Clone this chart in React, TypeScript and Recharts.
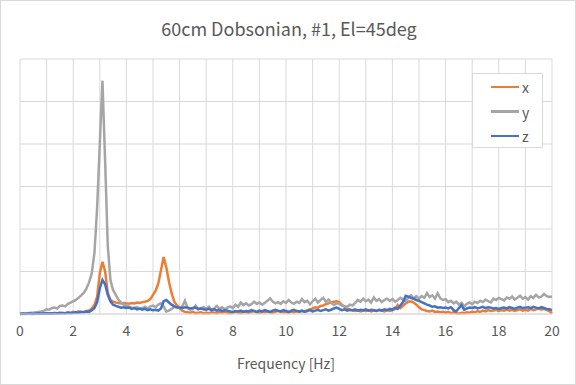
import React from 'react';
import { LineChart, Line, XAxis, YAxis, CartesianGrid, Label } from 'recharts';

// sampling grid, 0.1 Hz steps
const freq = Array.from({ length: 201 }, (_, i) => +(i / 10).toFixed(1));

const xAmp = [
  0.00, 0.00, 0.01, 0.01, 0.00, 0.01, 0.02, 0.01, 0.01, 0.02,
  0.01, 0.02, 0.01, 0.03, 0.02, 0.01, 0.03, 0.02, 0.04, 0.03,
  0.05, 0.03, 0.06, 0.04, 0.05, 0.07, 0.08, 0.13, 0.22, 0.40,
  0.96, 1.23, 1.00, 0.50, 0.33, 0.29, 0.27, 0.26, 0.25, 0.26,
  0.25, 0.24, 0.26, 0.25, 0.27, 0.26, 0.28, 0.29, 0.31, 0.35,
  0.45, 0.55, 0.72, 1.03, 1.34, 1.10, 0.76, 0.49, 0.29, 0.20,
  0.14, 0.08, 0.05, 0.04, 0.03, 0.05, 0.02, 0.03, 0.04, 0.02,
  0.03, 0.02, 0.04, 0.03, 0.02, 0.04, 0.03, 0.05, 0.03, 0.02,
  0.03, 0.05, 0.04, 0.02, 0.06, 0.04, 0.03, 0.05, 0.07, 0.04,
  0.03, 0.05, 0.04, 0.06, 0.04, 0.03, 0.05, 0.08, 0.06, 0.04,
  0.05, 0.03, 0.06, 0.04, 0.07, 0.05, 0.07, 0.06, 0.09, 0.11,
  0.13, 0.16, 0.15, 0.19, 0.20, 0.23, 0.25, 0.27, 0.29, 0.30,
  0.28, 0.22, 0.17, 0.13, 0.10, 0.08, 0.07, 0.09, 0.06, 0.08,
  0.07, 0.09, 0.06, 0.08, 0.07, 0.10, 0.08, 0.06, 0.09, 0.07,
  0.09, 0.12, 0.21, 0.14, 0.19, 0.25, 0.29, 0.30, 0.27, 0.22,
  0.16, 0.11, 0.09, 0.07, 0.06, 0.08, 0.05, 0.06, 0.04, 0.05,
  0.03, 0.05, 0.02, 0.04, 0.02, 0.01, 0.03, 0.02, 0.04, 0.03,
  0.05, 0.04, 0.07, 0.05, 0.08, 0.06, 0.09, 0.07, 0.08, 0.10,
  0.07, 0.09, 0.08, 0.11, 0.08, 0.10, 0.07, 0.09, 0.11, 0.08,
  0.10, 0.08, 0.12, 0.09, 0.11, 0.13, 0.10, 0.12, 0.09, 0.07,
  0.02,
];

const yAmp = [
  0.00, 0.01, 0.02, 0.02, 0.03, 0.03, 0.04, 0.05, 0.06, 0.08,
  0.11, 0.10, 0.14, 0.15, 0.13, 0.19, 0.20, 0.18, 0.24, 0.27,
  0.30, 0.33, 0.38, 0.44, 0.50, 0.60, 0.75, 0.96, 1.45, 2.50,
  4.00, 5.49, 3.60, 1.60, 0.80, 0.56, 0.45, 0.34, 0.27, 0.22,
  0.19, 0.17, 0.15, 0.14, 0.16, 0.12, 0.14, 0.17, 0.13, 0.18,
  0.20, 0.16, 0.22, 0.25, 0.18, 0.06, 0.08, 0.12, 0.17, 0.15,
  0.15, 0.18, 0.31, 0.14, 0.10, 0.12, 0.20, 0.11, 0.14, 0.16,
  0.12, 0.17, 0.10, 0.13, 0.19, 0.12, 0.16, 0.11, 0.15, 0.18,
  0.14, 0.22, 0.17, 0.27, 0.21, 0.25, 0.20, 0.23, 0.29, 0.24,
  0.27, 0.22, 0.26, 0.31, 0.37, 0.29, 0.25, 0.28, 0.24, 0.30,
  0.26, 0.33, 0.27, 0.24, 0.29, 0.26, 0.35, 0.28, 0.31, 0.23,
  0.30, 0.36, 0.27, 0.33, 0.38, 0.29, 0.34, 0.26, 0.21, 0.25,
  0.24, 0.20, 0.18, 0.17, 0.22, 0.20, 0.26, 0.33, 0.29, 0.36,
  0.30, 0.34, 0.27, 0.39, 0.31, 0.35, 0.28, 0.33, 0.36, 0.31,
  0.35, 0.29, 0.33, 0.38, 0.34, 0.30, 0.39, 0.44, 0.37, 0.42,
  0.36, 0.42, 0.38, 0.49, 0.40, 0.44, 0.36, 0.49, 0.37, 0.33,
  0.35, 0.28, 0.31, 0.25, 0.29, 0.22, 0.26, 0.18, 0.24, 0.27,
  0.23, 0.29, 0.26, 0.31, 0.28, 0.34, 0.30, 0.27, 0.36, 0.33,
  0.38, 0.35, 0.32, 0.39, 0.36, 0.41, 0.34, 0.38, 0.43, 0.36,
  0.40, 0.34, 0.42, 0.38, 0.45, 0.39, 0.41, 0.47, 0.42, 0.40,
  0.41,
];

const zAmp = [
  0.00, 0.01, 0.00, 0.01, 0.01, 0.00, 0.01, 0.02, 0.01, 0.01,
  0.02, 0.01, 0.02, 0.01, 0.02, 0.03, 0.02, 0.02, 0.03, 0.02,
  0.03, 0.04, 0.03, 0.05, 0.04, 0.06, 0.05, 0.09, 0.14, 0.28,
  0.60, 0.80, 0.70, 0.45, 0.30, 0.22, 0.19, 0.17, 0.15, 0.16,
  0.14, 0.15, 0.12, 0.14, 0.11, 0.13, 0.10, 0.12, 0.09, 0.11,
  0.09, 0.10, 0.08, 0.13, 0.30, 0.33, 0.27, 0.22, 0.18, 0.16,
  0.15, 0.14, 0.16, 0.15, 0.13, 0.14, 0.15, 0.12, 0.13, 0.11,
  0.10, 0.12, 0.09, 0.11, 0.08, 0.10, 0.07, 0.09, 0.08, 0.06,
  0.05, 0.07, 0.06, 0.08, 0.05, 0.07, 0.06, 0.09, 0.07, 0.05,
  0.08, 0.06, 0.09, 0.07, 0.05, 0.08, 0.10, 0.07, 0.06, 0.09,
  0.07, 0.05, 0.08, 0.10, 0.07, 0.06, 0.08, 0.05, 0.07, 0.09,
  0.06, 0.08, 0.10, 0.07, 0.09, 0.11, 0.08, 0.10, 0.13, 0.15,
  0.12, 0.09, 0.11, 0.08, 0.10, 0.09, 0.11, 0.08, 0.10, 0.09,
  0.11, 0.08, 0.10, 0.09, 0.07, 0.10, 0.08, 0.11, 0.09, 0.12,
  0.10, 0.15, 0.12, 0.20, 0.28, 0.43, 0.41, 0.38, 0.36, 0.33,
  0.31, 0.28, 0.25, 0.22, 0.20, 0.17, 0.18, 0.15, 0.16, 0.14,
  0.15, 0.13, 0.16, 0.09, 0.06, 0.14, 0.21, 0.10, 0.13, 0.15,
  0.14, 0.16, 0.13, 0.15, 0.17, 0.14, 0.16, 0.15, 0.13, 0.14,
  0.12, 0.14, 0.15, 0.13, 0.16, 0.14, 0.12, 0.15, 0.17, 0.14,
  0.15, 0.16, 0.14, 0.17, 0.15, 0.13, 0.16, 0.14, 0.12, 0.11,
  0.09,
];

const xTicks = [0, 1, 2, 3, 4, 5, 6, 7, 8, 9, 10, 11, 12, 13, 14, 15, 16, 17, 18, 19, 20];
const yTicks = [0, 1, 2, 3, 4, 5, 6];

const series = [
  { key: 'x', color: '#ED7D31' },
  { key: 'y', color: '#A5A5A5' },
  { key: 'z', color: '#4472C4' },
];

const data = freq.map((f, i) => ({ f, x: xAmp[i], y: yAmp[i], z: zAmp[i] }));

const font = "'Noto Sans CJK JP', 'Noto Sans', sans-serif";
const textColor = '#595959';

const LegendBox = () => (
  <div
    style={{
      position: 'absolute',
      left: 471,
      top: 72,
      width: 71,
      height: 75,
      border: '1px solid #d9d9d9',
      background: '#fff',
      boxSizing: 'border-box',
      fontFamily: font,
      fontSize: 14,
      color: textColor,
    }}
  >
    {series.map((s, i) => (
      <div key={s.key} style={{ position: 'absolute', left: 18, top: 3 + i * 24.5, height: 20, display: 'flex', alignItems: 'center' }}>
        <div style={{ width: 28, height: 2.5, background: s.color }} />
        <span style={{ marginLeft: 3, lineHeight: '20px' }}>{s.key}</span>
      </div>
    ))}
  </div>
);

export default function App() {
  return (
    <div
      style={{
        position: 'absolute',
        left: 0,
        top: 0,
        width: 576,
        height: 385,
        border: '1px solid #d9d9d9',
        boxSizing: 'border-box',
        background: '#fff',
        fontFamily: font,
      }}
    >
      <div
        style={{
          position: 'absolute',
          left: 0,
          top: 14,
          width: 576,
          textAlign: 'center',
          fontSize: 18,
          color: textColor,
          lineHeight: '26px',
        }}
      >
        60cm Dobsonian, #1, El=45deg
      </div>
      <div style={{ position: 'absolute', left: -1, top: -1 }}>
        <LineChart width={576} height={385} data={data} margin={{ top: 59, right: 24, left: 20, bottom: 0 }}>
          <CartesianGrid stroke="#d9d9d9" strokeWidth={1} />
          <XAxis
            dataKey="f"
            type="number"
            domain={[0, 20]}
            ticks={xTicks}
            interval={0}
            height={71}
            tickLine={false}
            tickSize={0}
            tickMargin={12}
            axisLine={{ stroke: '#d9d9d9' }}
            tick={{ fill: textColor, fontSize: 14, fontFamily: font }}
            tickFormatter={(v: number) => (v % 2 === 0 ? String(v) : '')}
          >
            <Label value="Frequency [Hz]" position="insideBottom" offset={16} fill={textColor} fontSize={14} fontFamily={font} />
          </XAxis>
          <YAxis hide domain={[0, 6]} ticks={yTicks} />
          {series.map((s) => (
            <Line
              key={s.key}
              type="linear"
              dataKey={s.key}
              stroke={s.color}
              strokeWidth={2.5}
              dot={false}
              isAnimationActive={false}
            />
          ))}
        </LineChart>
      </div>
      <LegendBox />
    </div>
  );
}
